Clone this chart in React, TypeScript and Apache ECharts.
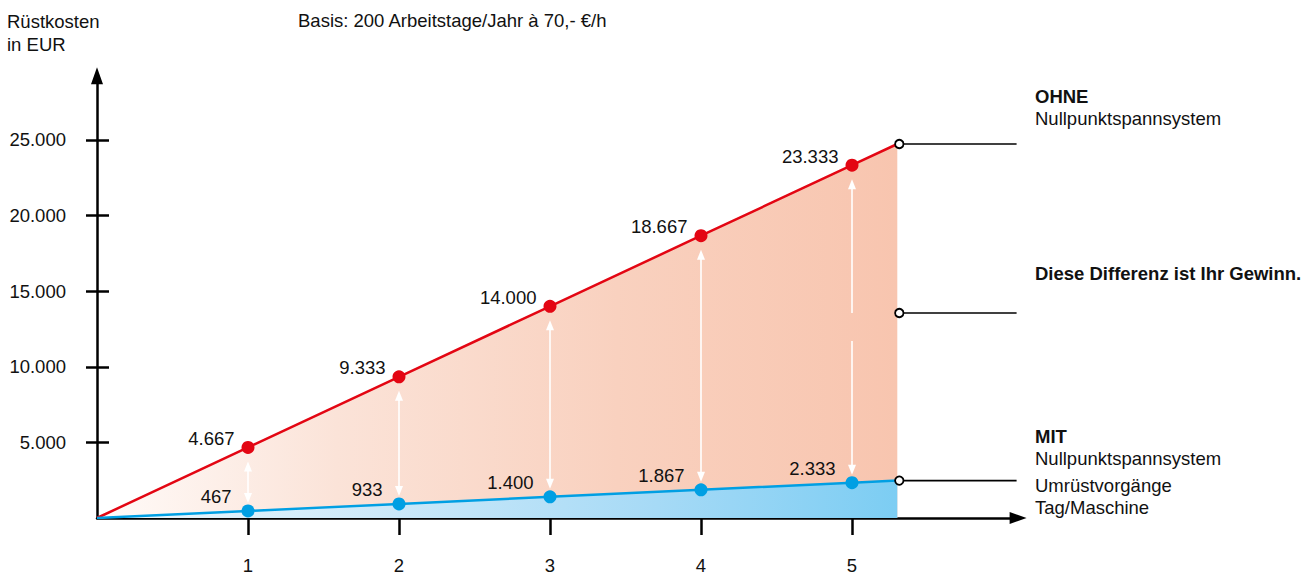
import React, { useEffect, useRef } from "react";
import * as echarts from "echarts";

// ---------- data ----------
const xTicks = [1, 2, 3, 4, 5];
const ohneValues = [4667, 9333, 14000, 18667, 23333];
const mitValues = [467, 933, 1400, 1867, 2333];
const endX = 5.3;
const ohneEnd = 24733;
const mitEnd = 2473;
const differenzMarker = 13558;
const calloutEndX = 6.09;
const yTicks = [5000, 10000, 15000, 20000, 25000];
const arrowGaps: (number[] | null)[] = [null, null, null, null, [11706, 13558]];

const xMax = 6.1;
const yMax = 29250;

const FONT = '"Liberation Sans", Arial, Helvetica, sans-serif';
const FS = 18.5;
const TXT = "#111";
const RED = "#e30613";
const BLUE = "#009fe3";

const de = (v: number) => String(Math.round(v)).replace(/\B(?=(\d{3})+(?!\d))/g, ".");

const ohneData = [
  { value: [0, 0], symbol: "none", label: { show: false } },
  ...xTicks.map((x, i) => ({ value: [x, ohneValues[i]] })),
  { value: [endX, ohneEnd], symbol: "none", label: { show: false } },
];
const mitData = [
  { value: [0, 0], symbol: "none", label: { show: false } },
  ...xTicks.map((x, i) => ({ value: [x, mitValues[i]] })),
  { value: [endX, mitEnd], symbol: "none", label: { show: false } },
];

const txt = (text: string, x: number, y: number, bold = false) => ({
  type: "text",
  x,
  y,
  silent: true,
  style: {
    text,
    fill: TXT,
    fontSize: FS,
    fontFamily: FONT,
    fontWeight: bold ? "bold" : "normal",
    textAlign: "left",
    textVerticalAlign: "middle",
  },
});

const option: any = {
  animation: false,
  grid: {
    left: 97,
    right: 1305 - (97 + xMax * 151),
    top: 75.7,
    bottom: 57,
    containLabel: false,
    outerBoundsMode: "none",
  },
  xAxis: {
    type: "value",
    min: 0,
    max: xMax,
    axisLine: {
      show: true,
      onZero: false,
      symbol: ["none", "triangle"],
      symbolSize: [12, 17],
      lineStyle: { color: "#000", width: 2.5 },
    },
    axisTick: {
      show: true,
      customValues: xTicks,
      length: 17,
      lineStyle: { color: "#000", width: 2.5 },
    },
    axisLabel: {
      customValues: xTicks,
      margin: 38,
      fontSize: FS,
      color: TXT,
      fontFamily: FONT,
    },
    splitLine: { show: false },
  },
  yAxis: [
    {
      type: "value",
      position: "left",
      min: 0,
      max: yMax,
      axisLine: {
        show: true,
        onZero: false,
        symbol: ["none", "triangle"],
        symbolSize: [12, 17],
        lineStyle: { color: "#000", width: 2.5 },
      },
      axisTick: {
        show: true,
        customValues: yTicks,
        length: 11,
        lineStyle: { color: "#000", width: 2.5 },
      },
      axisLabel: {
        customValues: yTicks,
        margin: 31,
        fontSize: FS,
        color: TXT,
        fontFamily: FONT,
        formatter: (v: number) => de(v),
      },
      splitLine: { show: false },
    },
    {
      type: "value",
      position: "left",
      offset: 0,
      min: 0,
      max: yMax,
      axisLine: { show: false },
      axisTick: {
        show: true,
        inside: true,
        customValues: yTicks,
        length: 12,
        lineStyle: { color: "#000", width: 2.5 },
      },
      axisLabel: { show: false },
      splitLine: { show: false },
    },
  ],
  series: [
    {
      type: "line",
      name: "OHNE",
      silent: true,
      data: ohneData,
      symbol: "circle",
      symbolSize: 13,
      showAllSymbol: true,
      lineStyle: { color: RED, width: 2.5 },
      itemStyle: { color: RED },
      areaStyle: {
        opacity: 1,
        color: new echarts.graphic.LinearGradient(0, 0, 1, 0, [
          { offset: 0, color: "#fffbf9" },
          { offset: 0.3, color: "#fbe3d8" },
          { offset: 0.65, color: "#f9d1bf" },
          { offset: 1, color: "#f8c5af" },
        ]),
      },
      label: {
        show: true,
        position: "left",
        distance: 7,
        offset: [0, -9],
        fontSize: FS,
        color: TXT,
        fontFamily: FONT,
        formatter: (p: any) => de(p.value[1]),
      },
      z: 2,
    },
    {
      type: "line",
      name: "MIT",
      silent: true,
      data: mitData,
      symbol: "circle",
      symbolSize: 13,
      showAllSymbol: true,
      lineStyle: { color: BLUE, width: 2.5 },
      itemStyle: { color: BLUE },
      areaStyle: {
        opacity: 1,
        color: new echarts.graphic.LinearGradient(0, 0, 1, 0, [
          { offset: 0, color: "#eef8fd" },
          { offset: 0.35, color: "#cde9f9" },
          { offset: 0.7, color: "#a6daf6" },
          { offset: 1, color: "#7ccdf3" },
        ]),
      },
      label: {
        show: true,
        position: "left",
        distance: 10,
        offset: [0, -14],
        fontSize: FS,
        color: TXT,
        fontFamily: FONT,
        formatter: (p: any) => de(p.value[1]),
      },
      z: 3,
    },
    {
      type: "custom",
      name: "Differenz",
      silent: true,
      z: 4,
      data: xTicks.map((x, i) => [x, mitValues[i], ohneValues[i]]),
      encode: { x: 0, y: [1, 2] },
      renderItem: (params: any, api: any) => {
        const x = api.value(0);
        const lo = api.value(1);
        const hi = api.value(2);
        const pTop = api.coord([x, hi]);
        const pBot = api.coord([x, lo]);
        const px = pTop[0];
        const yTop = pTop[1] + 14;
        const yBot = pBot[1] - 8;
        const ah = 10;
        const aw = 4;
        const stroke = { stroke: "#fff", lineWidth: 1.6 };
        const children: any[] = [];
        const gap = arrowGaps[params.dataIndex];
        if (gap) {
          const g1 = api.coord([x, gap[1]])[1];
          const g0 = api.coord([x, gap[0]])[1];
          children.push({ type: "line", shape: { x1: px, y1: yTop + ah - 1, x2: px, y2: g1 }, style: stroke });
          children.push({ type: "line", shape: { x1: px, y1: g0, x2: px, y2: yBot - ah + 1 }, style: stroke });
        } else {
          children.push({ type: "line", shape: { x1: px, y1: yTop + ah - 1, x2: px, y2: yBot - ah + 1 }, style: stroke });
        }
        children.push({
          type: "polygon",
          shape: { points: [[px, yTop], [px - aw, yTop + ah], [px + aw, yTop + ah]] },
          style: { fill: "#fff" },
        });
        children.push({
          type: "polygon",
          shape: { points: [[px, yBot], [px - aw, yBot - ah], [px + aw, yBot - ah]] },
          style: { fill: "#fff" },
        });
        return { type: "group", children };
      },
    },
    {
      type: "custom",
      name: "Callouts",
      silent: true,
      z: 6,
      data: [
        [endX, ohneEnd],
        [endX, differenzMarker],
        [endX, mitEnd],
      ],
      renderItem: (params: any, api: any) => {
        const p = api.coord([api.value(0), api.value(1)]);
        const e = api.coord([calloutEndX, api.value(1)]);
        const cx = p[0] + 2;
        const r = 4.2;
        return {
          type: "group",
          children: [
            {
              type: "line",
              shape: { x1: cx + r, y1: p[1], x2: e[0], y2: p[1] },
              style: { stroke: "#000", lineWidth: 1.6 },
            },
            {
              type: "circle",
              shape: { cx, cy: p[1], r },
              style: { fill: "#fff", stroke: "#000", lineWidth: 1.8 },
            },
          ],
        };
      },
    },
  ],
  graphic: [
    txt("Rüstkosten", 7, 21),
    txt("in EUR", 7, 44.5),
    txt("Basis: 200 Arbeitstage/Jahr à 70,- €/h", 298, 20),
    txt("OHNE", 1035, 96, true),
    txt("Nullpunktspannsystem", 1035, 118),
    txt("Diese Differenz ist Ihr Gewinn.", 1035, 273, true),
    txt("MIT", 1035, 436.5, true),
    txt("Nullpunktspannsystem", 1035, 458.5),
    txt("Umrüstvorgänge", 1035, 485),
    txt("Tag/Maschine", 1035, 507),
  ],
};

export default function App() {
  const ref = useRef<HTMLDivElement>(null);
  useEffect(() => {
    document.body.style.margin = "0";
    const chart = echarts.init(ref.current!, null, { renderer: "svg" });
    chart.setOption(option);
    return () => chart.dispose();
  }, []);
  return <div ref={ref} style={{ width: 1305, height: 575 }} />;
}
